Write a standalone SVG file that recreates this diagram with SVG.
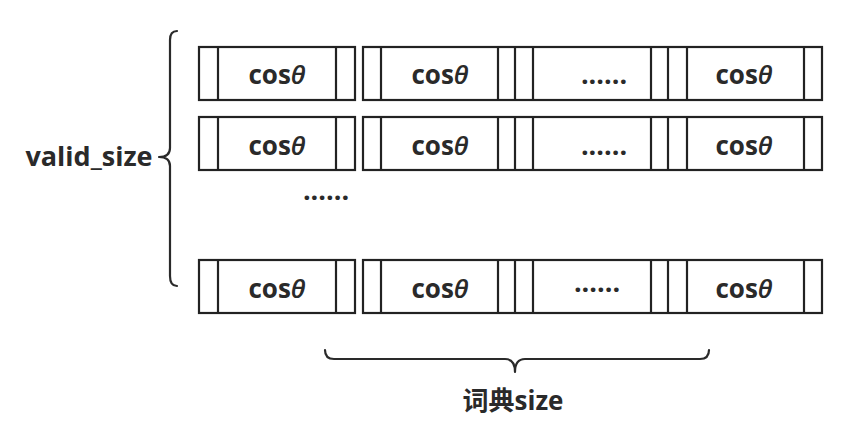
<svg xmlns="http://www.w3.org/2000/svg" width="843" height="431" viewBox="0 0 843 431">
<style>
.box{fill:#fff;stroke:#222;stroke-width:2.2}
.ln{stroke:#222;stroke-width:2.2}
.t{font-family:"Open Sans","Noto Sans CJK SC",sans-serif;font-weight:bold;font-size:26px;fill:#2a2a2a;text-anchor:middle}
.th{font-style:italic;font-weight:600}
.dots{font-size:27px}
.br{fill:none;stroke:#2a2a2a;stroke-width:2.2;stroke-linecap:round;stroke-linejoin:round}
</style>
<defs>
<g id="rowA">
<rect class="box" x="199" y="0" width="156" height="53"/>
<line class="ln" x1="218" y1="0" x2="218" y2="53"/>
<line class="ln" x1="336" y1="0" x2="336" y2="53"/>
</g>
<g id="rowB">
<rect class="box" x="363" y="0" width="459" height="53"/>
<line class="ln" x1="381" y1="0" x2="381" y2="53"/>
<line class="ln" x1="498" y1="0" x2="498" y2="53"/>
<line class="ln" x1="515" y1="0" x2="515" y2="53"/>
<line class="ln" x1="533" y1="0" x2="533" y2="53"/>
<line class="ln" x1="651" y1="0" x2="651" y2="53"/>
<line class="ln" x1="668" y1="0" x2="668" y2="53"/>
<line class="ln" x1="687" y1="0" x2="687" y2="53"/>
<line class="ln" x1="804" y1="0" x2="804" y2="53"/>
</g>
</defs>
<rect width="843" height="431" fill="#fff"/>
<g id="row1">
<use href="#rowA" y="47"/>
<use href="#rowB" y="47"/>
<text class="t" x="277" y="84">cos<tspan class="th">θ</tspan></text>
<text class="t" x="440" y="84">cos<tspan class="th">θ</tspan></text>
<text class="t dots" x="604" y="84">......</text>
<text class="t" x="744" y="84">cos<tspan class="th">θ</tspan></text>
</g>
<g id="row2">
<use href="#rowA" y="117"/>
<use href="#rowB" y="117"/>
<text class="t" x="277" y="155">cos<tspan class="th">θ</tspan></text>
<text class="t" x="440" y="155">cos<tspan class="th">θ</tspan></text>
<text class="t dots" x="604" y="155">......</text>
<text class="t" x="744" y="155">cos<tspan class="th">θ</tspan></text>
</g>
<g id="row-gap">
<text class="t dots" x="326" y="200">......</text>
</g>
<g id="row3">
<use href="#rowA" y="260"/>
<use href="#rowB" y="260"/>
<text class="t" x="277" y="298">cos<tspan class="th">θ</tspan></text>
<text class="t" x="440" y="298">cos<tspan class="th">θ</tspan></text>
<text class="t dots" x="597" y="292">......</text>
<text class="t" x="744" y="298">cos<tspan class="th">θ</tspan></text>
</g>
<g id="braces">
<path class="br" d="M177,31 Q170,31 170,40 L170,148 Q170,157 159,157 Q170,157 170,166 L170,276 Q170,286 177,286"/>
<path class="br" d="M325,350 Q325,359 334,359 L505,359 Q515,359 515,372 Q515,359 525,359 L700,359 Q709,359 709,350"/>
</g>
<g id="label-valid">
<text class="t" x="89" y="166" style="font-size:27px">valid_size</text>
</g>
<g id="label-dict">
<text class="t" x="513" y="410">词典size</text>
</g>
</svg>
